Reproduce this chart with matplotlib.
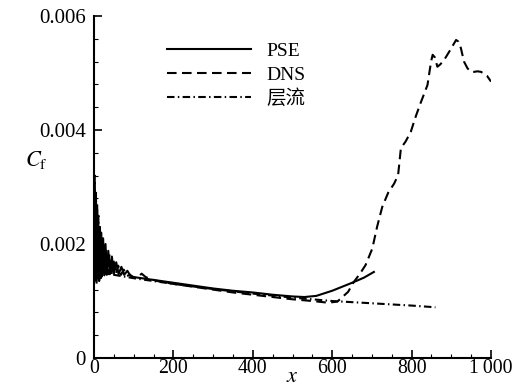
import matplotlib
matplotlib.use("Agg")
import matplotlib.pyplot as plt
from matplotlib.ticker import MultipleLocator, FixedLocator, FixedFormatter

plt.rcParams["font.family"] = ["Liberation Serif", "Noto Sans CJK SC", "DejaVu Serif"]
plt.rcParams["mathtext.fontset"] = "stix"

# PSE (solid)
pse_x = [1, 2.5, 4, 5.5, 7, 8.5, 10, 12, 14, 16, 18, 20, 23, 26, 29, 32, 36, 40, 45, 50,
         56, 62, 69, 76, 84, 92, 100, 120, 150, 200, 250, 300, 350, 400, 450, 500, 530,
         560, 600, 650, 680, 705]
pse_cf = [0.0027, 0.0014, 0.0026, 0.00135, 0.0025, 0.0014, 0.0024, 0.0014, 0.0023, 0.00142,
          0.0022, 0.00143, 0.0021, 0.00145, 0.0020, 0.00146, 0.00188, 0.00147, 0.00178, 0.00148,
          0.00168, 0.00147, 0.0016, 0.00146, 0.00153, 0.00144, 0.00142, 0.00140, 0.00137, 0.00132,
          0.00127, 0.00122, 0.00118, 0.00115, 0.00111, 0.00108, 0.00107, 0.00109, 0.00118, 0.00132,
          0.00141, 0.00151]

# DNS (dashed)
dns_x = [0.5, 2, 3.5, 5, 6.5, 8, 9.5, 11, 13, 15, 17, 19, 22, 25, 28, 31, 35, 39, 44, 49,
         55, 61, 68, 75, 83, 91, 100, 110, 120, 130, 145, 160, 200, 250, 300, 350, 400, 450,
         500, 550, 590, 613, 640, 654, 670, 684, 701, 713, 726, 741, 756, 766, 773, 785, 798,
         811, 823, 840, 849, 853, 858, 865, 872, 882, 897, 912, 918, 924, 932, 941, 950, 957,
         966, 975, 990, 1000]
dns_cf = [0.0020, 0.0032, 0.0016, 0.0029, 0.0013, 0.0027, 0.0014, 0.0025, 0.00135, 0.0023,
          0.0014, 0.0021, 0.00143, 0.0020, 0.00145, 0.0019, 0.00147, 0.00182, 0.00147, 0.00172,
          0.00147, 0.00162, 0.00146, 0.00155, 0.00144, 0.00146, 0.00141, 0.00142, 0.00148, 0.00142,
          0.00138, 0.00135, 0.00130, 0.00125, 0.00120, 0.00115, 0.00111, 0.00107, 0.00103, 0.00100,
          0.00097, 0.00099, 0.00116, 0.00133, 0.00148, 0.00163, 0.00192, 0.00230, 0.00265, 0.00290,
          0.00306, 0.00321, 0.00368, 0.00380, 0.00397, 0.00425, 0.00448, 0.00479, 0.00520, 0.00532,
          0.00528, 0.00511, 0.00515, 0.00523, 0.00540, 0.00558, 0.00555, 0.00544, 0.00520, 0.00508,
          0.00502, 0.00502, 0.00503, 0.00502, 0.00495, 0.00485]

# laminar (dash-dot)
lam_x = [10, 50, 100, 150, 200, 300, 400, 500, 600, 700, 800, 860]
lam_cf = [0.00152, 0.00146, 0.00140, 0.00135, 0.00130, 0.00121, 0.00113, 0.00106, 0.00100,
          0.00096, 0.00092, 0.00089]

x_ticks = [0, 200, 400, 600, 800, 1000]
x_labels = ["0", "200", "400", "600", "800", "1\u2009000"]
y_ticks = [0, 0.002, 0.004, 0.006]
y_labels = ["0", "0.002", "0.004", "0.006"]

fig = plt.figure(figsize=(5.12, 3.88), dpi=100)
ax = fig.add_axes([0.1836, 0.0773, 0.7754, 0.8814])

lw = 1.5
ax.plot(pse_x, pse_cf, color="black", lw=lw, label="PSE")
ax.plot(dns_x, dns_cf, color="black", lw=lw, dashes=(4.6, 2.6), label="DNS")
ax.plot(lam_x, lam_cf, color="black", lw=lw, dashes=(3.6, 1.6, 0.7, 1.6), label="层流")

ax.set_xlim(0, 1000)
ax.set_ylim(0, 0.006)
ax.xaxis.set_major_locator(FixedLocator(x_ticks))
ax.xaxis.set_major_formatter(FixedFormatter(x_labels))
ax.yaxis.set_major_locator(FixedLocator(y_ticks))
ax.yaxis.set_major_formatter(FixedFormatter(y_labels))
ax.xaxis.set_minor_locator(MultipleLocator(50))
ax.yaxis.set_minor_locator(MultipleLocator(0.0004))
ax.tick_params(which="both", direction="in", labelsize=15, width=1.2)
ax.tick_params(which="major", length=6)
ax.tick_params(axis="y", which="major", pad=6)
ax.tick_params(axis="x", which="major", pad=1, labelsize=14.3)
ax.tick_params(which="minor", length=3, width=0.8)
for s in ("top", "right"):
    ax.spines[s].set_visible(False)
for s in ("left", "bottom"):
    ax.spines[s].set_linewidth(1.5)

ax.set_xlabel("$x$", fontsize=16, va="center")
ax.xaxis.set_label_coords(0.5, -0.058)
ax.set_ylabel(r"$C_{\rm f}$", fontsize=16, rotation=0, va="center")
ax.yaxis.set_label_coords(-0.145, 0.578)

ax.legend(loc="upper left", bbox_to_anchor=(0.165, 0.945), frameon=False, fontsize=14,
          handlelength=4.3, handletextpad=0.8, labelspacing=0.3, borderaxespad=0)

fig.savefig("out.png", dpi=100)
